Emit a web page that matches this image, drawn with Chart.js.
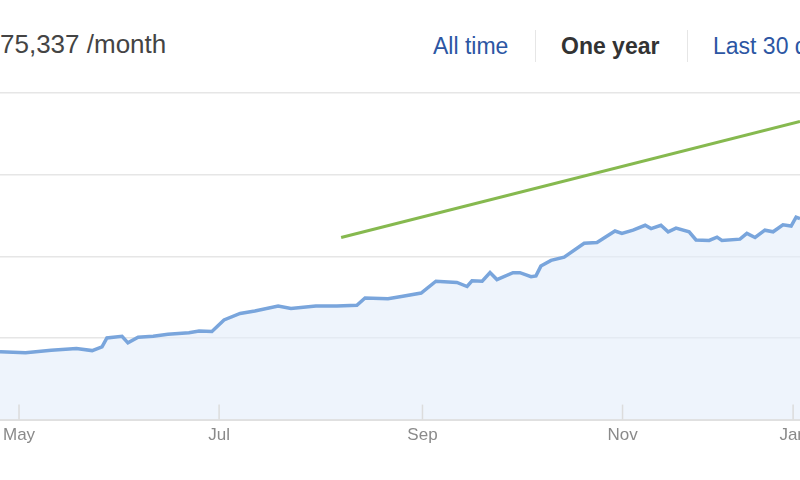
<!DOCTYPE html>
<html><head><meta charset="utf-8">
<script src="https://cdn.jsdelivr.net/npm/chart.js@4"></script>
<style>
html,body{margin:0;padding:0;width:800px;height:480px;overflow:hidden;background:#fff;font-family:"Liberation Sans",Arial,sans-serif;}
#title{position:absolute;left:0;top:29px;font-size:26px;color:#444;white-space:nowrap;}
.tab{position:absolute;top:33px;font-size:23px;color:#2c56a3;white-space:nowrap;}
.sep{position:absolute;top:30px;width:1px;height:32px;background:#e6e6e6;}
#wrap{position:absolute;left:0;top:80px;width:800px;height:372px;}
</style></head><body>
<div id="title">75,337 /month</div>
<div class="tab" style="left:433px">All time</div>
<div class="sep" style="left:535px"></div>
<div class="tab" style="left:561px;font-weight:bold;color:#333">One year</div>
<div class="sep" style="left:687px"></div>
<div class="tab" style="left:713px">Last 30 days</div>
<div id="wrap"><canvas id="c"></canvas></div>
<script>
const monthLabels = ["May","Jul","Sep","Nov","Jan"];
const monthDays = [0, 61, 123, 184, 236];
const xDays = [-5.8,2,9.8,17.5,22.3,25.3,26.8,31.4,33.2,36.3,40.9,45.4,51.8,54.9,58.8,62.5,67.4,71.9,79,82.9,90.5,96.9,103,105.5,112.5,117,122.6,127.1,133.5,136.6,138.1,141.2,143.6,145.7,150.6,152.7,156.1,157.6,159.1,162.2,166.2,172.3,176.2,181.7,183.8,187.2,190.9,192.7,195.7,197.9,200.3,204.3,206.4,210.4,212.8,214.3,219.8,221.9,224.4,227.4,229.9,232.9,235.4,236.9,238.1];
const visits = [0.83,0.82,0.85,0.87,0.845,0.89,1.0,1.02,0.94,1.01,1.02,1.045,1.065,1.085,1.08,1.22,1.30,1.33,1.39,1.36,1.39,1.39,1.40,1.49,1.48,1.51,1.55,1.695,1.68,1.63,1.70,1.695,1.80,1.715,1.80,1.80,1.75,1.76,1.88,1.95,1.99,2.16,2.17,2.31,2.28,2.32,2.38,2.34,2.38,2.30,2.345,2.30,2.20,2.195,2.235,2.195,2.21,2.28,2.23,2.32,2.30,2.385,2.37,2.48,2.46];
const trendDays = [98.2, 238.1];
const trendValues = [2.23, 3.65];

const tickMarks = {id:'tickMarks', afterDraw(ch){
  const c=ch.ctx, s=ch.scales.x, b=ch.chartArea.bottom;
  c.save(); c.strokeStyle='#dcdcdc'; c.lineWidth=1.5;
  monthDays.forEach(d=>{const p=s.getPixelForValue(d); c.beginPath(); c.moveTo(p,b-15); c.lineTo(p,b); c.stroke();});
  c.restore();
}};

new Chart(document.getElementById('c'),{
  type:'line',
  data:{datasets:[
    {data:xDays.map((d,i)=>({x:d,y:visits[i]})),borderColor:'#79a5dc',borderWidth:3.5,backgroundColor:'rgba(226,236,250,0.6)',fill:'origin',pointRadius:0,tension:0},
    {data:trendDays.map((d,i)=>({x:d,y:trendValues[i]})),borderColor:'#86b94f',borderWidth:3,pointRadius:0,fill:false}
  ]},
  options:{responsive:true,maintainAspectRatio:false,animation:false,
    layout:{padding:{top:13,left:0,right:0,bottom:0}},
    plugins:{legend:{display:false},tooltip:{enabled:false}},
    scales:{
      x:{type:'linear',min:-5.8,max:238.1,
        afterBuildTicks(a){a.ticks=monthDays.map(v=>({value:v}));},
        afterFit(s){s.paddingLeft=0;s.paddingRight=0;},
        ticks:{autoSkip:false,maxRotation:0,padding:6,color:'#8a8a8a',font:{family:'Liberation Sans',size:17},
          callback:(v)=>{const i=monthDays.indexOf(v);return i>=0?monthLabels[i]:'';}},
        grid:{drawOnChartArea:false,drawTicks:false},
        border:{color:'#e0e0e0',width:2}},
      y:{min:0,max:4,ticks:{display:false,stepSize:1},
        grid:{color:'#e6e6e6',lineWidth:1.5,drawTicks:false},border:{display:false}}
    }},
  plugins:[tickMarks]
});
</script></body></html>
